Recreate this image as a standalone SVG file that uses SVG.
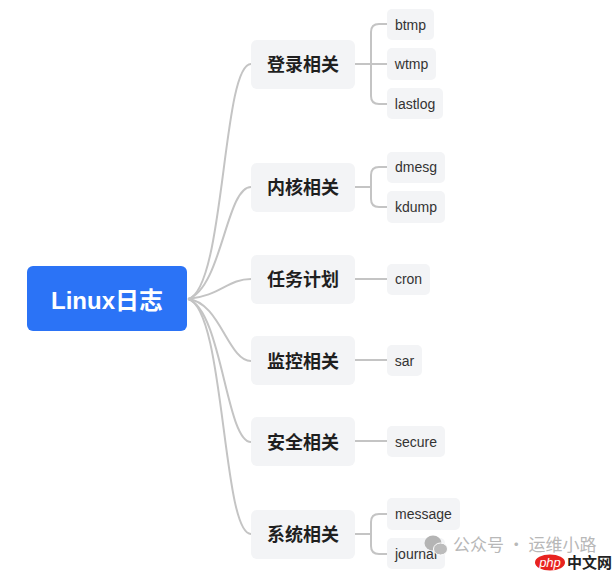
<svg xmlns="http://www.w3.org/2000/svg" width="616" height="571" viewBox="0 0 616 571">
<style>
.l1 rect{fill:#f3f4f6}
.l1 text{font:700 18px "Liberation Sans","Noto Sans CJK SC",sans-serif;fill:#1f1f1f;text-anchor:middle}
.l2 rect{fill:#f3f4f6}
.l2 text{font:14px "Liberation Sans","Noto Sans CJK SC",sans-serif;fill:#333;text-anchor:middle}
#connectors path{fill:none;stroke:#c4c4c4;stroke-width:2}
</style>
<rect width="616" height="571" fill="#fff"/>
<g id="connectors">
<path d="M188 299C225 290 222 64 251 64"/>
<path d="M188 299C222 288 226 187 251 187"/>
<path d="M188 299C220 296 228 279 251 279"/>
<path d="M188 299C220 302 228 361 251 361"/>
<path d="M188 299C222 310 226 442 251 442"/>
<path d="M188 299C225 308 222 534 251 534"/>
<path d="M355 64H387"/>
<path d="M371 64V32Q371 24 379 24H387"/>
<path d="M371 64V96Q371 104 379 104H387"/>
<path d="M355 187H371"/>
<path d="M371 187V175Q371 167 379 167H387"/>
<path d="M371 187V199Q371 207 379 207H387"/>
<path d="M355 279H387"/>
<path d="M355 360H387"/>
<path d="M355 441H387"/>
<path d="M355 534H371"/>
<path d="M371 534V522Q371 514 379 514H387"/>
<path d="M371 534V546Q371 554 379 554H387"/>
</g>
<g id="root"><rect x="27" y="266" width="160" height="65" rx="6" fill="#2b73f6"/><text x="107" y="309" text-anchor="middle" style="font:700 24px 'Liberation Sans','Noto Sans CJK SC',sans-serif" fill="#fff">Linux日志</text></g>
<g id="n1" class="l1"><rect x="251" y="40" width="104" height="49" rx="6"/><text x="303" y="71">登录相关</text></g>
<g id="n2" class="l1"><rect x="251" y="163" width="104" height="49" rx="6"/><text x="303" y="194">内核相关</text></g>
<g id="n3" class="l1"><rect x="251" y="255" width="104" height="49" rx="6"/><text x="303" y="286">任务计划</text></g>
<g id="n4" class="l1"><rect x="251" y="336" width="104" height="49" rx="6"/><text x="303" y="368">监控相关</text></g>
<g id="n5" class="l1"><rect x="251" y="417" width="104" height="49" rx="6"/><text x="303" y="449">安全相关</text></g>
<g id="n6" class="l1"><rect x="251" y="510" width="104" height="49" rx="6"/><text x="303" y="541">系统相关</text></g>
<g id="btmp" class="l2"><rect x="387" y="9" width="47" height="31" rx="5"/><text x="410.500" y="30">btmp</text></g>
<g id="wtmp" class="l2"><rect x="387" y="48" width="49" height="32" rx="5"/><text x="411.500" y="69">wtmp</text></g>
<g id="lastlog" class="l2"><rect x="387" y="88" width="56" height="31" rx="5"/><text x="415" y="109">lastlog</text></g>
<g id="dmesg" class="l2"><rect x="387" y="152" width="58" height="31" rx="5"/><text x="416" y="172">dmesg</text></g>
<g id="kdump" class="l2"><rect x="387" y="191" width="58" height="32" rx="5"/><text x="416" y="212">kdump</text></g>
<g id="cron" class="l2"><rect x="387" y="264" width="43" height="31" rx="5"/><text x="408.500" y="284">cron</text></g>
<g id="sar" class="l2"><rect x="387" y="345" width="35" height="31" rx="5"/><text x="404.500" y="366">sar</text></g>
<g id="secure" class="l2"><rect x="387" y="426" width="58" height="31" rx="5"/><text x="416" y="447">secure</text></g>
<g id="message" class="l2"><rect x="387" y="498" width="73" height="32" rx="5"/><text x="423.500" y="519">message</text></g>
<g id="journal" class="l2"><rect x="387" y="538" width="58" height="31" rx="5"/><text x="416" y="559">journal</text></g>
<g id="watermark">
<ellipse cx="433" cy="543" rx="8.500" ry="7.500" fill="#b4b4b4"/>
<ellipse cx="440.500" cy="549" rx="7" ry="6" fill="#bcbcbc" stroke="#fff"/>
<text x="453" y="551" style="font:17px 'Noto Sans CJK SC',sans-serif" fill="#b8b8b8">公众号 · 运维小路</text>
<ellipse cx="550" cy="562.500" rx="15" ry="8" fill="#e8231f"/>
<text x="550" y="567" text-anchor="middle" style="font:italic 13px 'Liberation Sans',sans-serif" fill="#fff">php</text>
<text x="567" y="568" style="font:700 15px 'Noto Sans CJK SC',sans-serif" fill="#222">中文网</text>
</g>
</svg>
